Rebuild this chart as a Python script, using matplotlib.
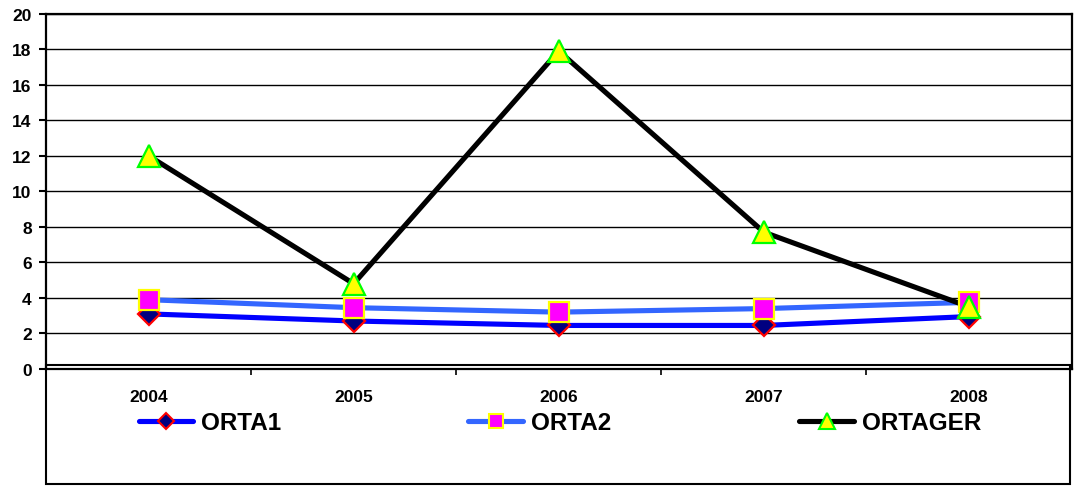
import numpy as np
import matplotlib.pyplot as plt
from matplotlib.lines import Line2D
from matplotlib.patches import Rectangle

# yillara gore ortalamalar
years = ['2004', '2005', '2006', '2007', '2008']
orta1 = [3.1, 2.7, 2.45, 2.45, 2.95]
orta2 = [3.9, 3.45, 3.2, 3.4, 3.75]
ortager = [12.0, 4.8, 17.9, 7.7, 3.5]

plt.rcParams['font.family'] = 'Liberation Sans'
plt.rcParams['font.weight'] = 'bold'

fig = plt.figure(figsize=(10.77, 4.89), dpi=100)
ax = fig.add_axes([0.0427, 0.2434, 0.9522, 0.7266])

x = np.arange(len(years))

# seri stilleri: (ad, veri, cizgi rengi, marker, dolgu, kenar, boyut, lejant boyutu)
series = [
    ('ORTA1', orta1, '#0000FF', 'D', '#000080', '#FF0000', 11.5, 8.0),
    ('ORTA2', orta2, '#3366FF', 's', '#FF00FF', '#FFFF00', 14.5, 9.5),
    ('ORTAGER', ortager, '#000000', '^', '#FFFF00', '#00FF00', 16.5, 11.0),
]

# once cizgiler, sonra markerlar
for name, vals, lc, m, fc, ec, ms, lms in series:
    ax.plot(x, vals, color=lc, lw=3.7, solid_joinstyle='miter', zorder=3)
for name, vals, lc, m, fc, ec, ms, lms in series:
    ax.plot(x, vals, ls='none', marker=m, ms=ms, mfc=fc, mec=ec, mew=1.6, zorder=4)

ax.set_xlim(-0.5, 4.5)
ax.set_ylim(0, 20)
ax.set_yticks(np.arange(0, 21, 2))
ax.yaxis.grid(True, color='black', lw=1.0)
ax.set_axisbelow(True)

ax.set_xticks(x)
ax.set_xticklabels(years)
ax.set_xticks(np.arange(0.5, 4.5, 1.0), minor=True)
ax.tick_params(axis='x', which='major', length=0, pad=14.5, labelsize=12.5)
ax.tick_params(axis='x', which='minor', length=4.5, width=1.2, direction='out')
ax.tick_params(axis='y', length=4.8, width=1.5, pad=5.5, labelsize=12.5)
for lab in ax.get_xticklabels() + ax.get_yticklabels():
    lab.set_fontweight('bold')

for sp in ax.spines.values():
    sp.set_linewidth(1.6)
    sp.set_color('black')

# alt kutu (etiketler ve lejant)
fig.patches.append(Rectangle((0.0427, 0.0082), 0.9508, 0.2433, transform=fig.transFigure,
                             fill=False, edgecolor='black', lw=1.5, zorder=0))

# lejant ogeleri
leg_x = [0.1286, 0.4350, 0.7423]
for (name, vals, lc, m, fc, ec, ms, lms), lx in zip(series, leg_x):
    h = Line2D([], [], color=lc, lw=3.7, solid_capstyle='round', marker=m, ms=lms,
               mfc=fc, mec=ec, mew=1.5)
    fig.legend(handles=[h], labels=[name], loc='center left', bbox_to_anchor=(lx, 0.133),
               frameon=False, borderpad=0, borderaxespad=0, handlelength=2.26,
               handletextpad=0.33, prop={'size': 17.5, 'weight': 'bold'})

fig.savefig('out.png', dpi=100)
